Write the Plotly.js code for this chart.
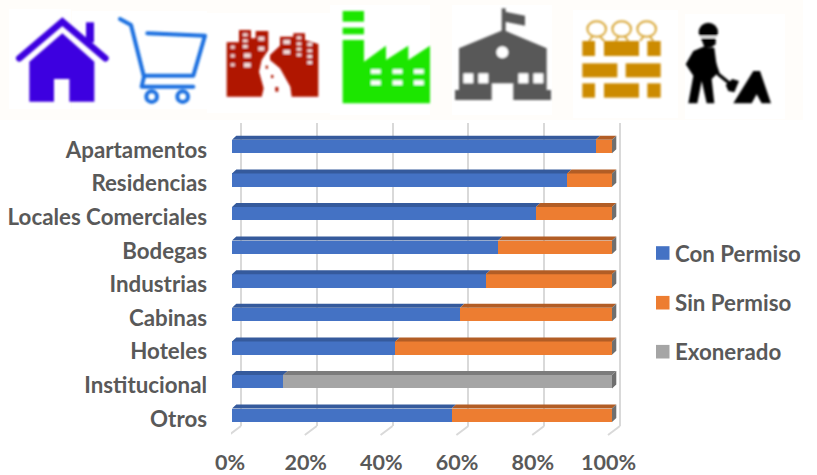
<!DOCTYPE html>
<html><head><meta charset="utf-8">
<script src="https://cdn.plot.ly/plotly-3.0.1.min.js"></script>
<style>html,body{margin:0;padding:0;background:#fff}#c{width:817px;height:475px}</style>
</head><body><div id="c"></div>
<script>
const categories=["Apartamentos","Residencias","Locales Comerciales","Bodegas","Industrias","Cabinas","Hoteles","Institucional","Otros"];
const conPermiso=[95.7,88.2,80,70,66.8,60,43,13.5,57.8];
const sinPermiso=[4.3,11.8,20,30,33.2,40,57,0,42.2];
const exonerado=[0,0,0,0,0,0,0,86.5,0];
const seriesNames=["Con Permiso","Sin Permiso","Exonerado"];
const xTicks=[0,20,40,60,80,100];
const xTickLabels=["0%","20%","40%","60%","80%","100%"];
const frontColors=["#4472c4","#ed7d31","#a5a5a5"];
const topColors=["#355a9c","#b25d25","#7c7c7c"];
const sideColor="#6f6f6f";
const textColor="#595959";
const W=817,H=475;
const fx=p=>p/W, fy=p=>1-p/H;
const font={family:"Lato, 'Open Sans', sans-serif",size:22.3,color:textColor,weight:"bold"};
const xTickFont=Object.assign({},font,{size:21.5});
const pxPerRow=33.6, pxPerPct=3.8, depthX=4.3, depthY=4;
const dX=depthX/pxPerPct, dY=depthY/pxPerRow, halfBar=0.2;
const yRange=(t,b)=>[(b-146.5)/pxPerRow,(t-146.5)/pxPerRow];
const rows=categories.map((_,i)=>i);
const series=[conPermiso,sinPermiso,exonerado];

const traces=[];
traces.push({type:"scatter",x:xTicks,y:xTicks.map(()=>0),xaxis:"x",yaxis:"y",mode:"markers",marker:{opacity:0},hoverinfo:"skip",showlegend:false});
series.forEach((vals,s)=>{
  const xs=[],ys=[];
  vals.forEach((v,i)=>{
    if(v<=0) return;
    let start=0; for(let k=0;k<s;k++) start+=series[k][i];
    const t=i-halfBar;
    xs.push(start,start+v,start+v+dX,start+dX,start,null);
    ys.push(t,t,t-dY,t-dY,t,null);
  });
  traces.push({type:"scatter",x:xs,y:ys,xaxis:"x2",yaxis:"y2",mode:"lines",line:{width:0},fill:"toself",fillcolor:topColors[s],hoverinfo:"skip",showlegend:false});
});
{
  const xs=[],ys=[];
  rows.forEach(i=>{
    const end=conPermiso[i]+sinPermiso[i]+exonerado[i], t=i-halfBar, b=i+halfBar;
    xs.push(end,end+dX,end+dX,end,end,null);
    ys.push(t,t-dY,b-dY,b,t,null);
  });
  traces.push({type:"scatter",x:xs,y:ys,xaxis:"x2",yaxis:"y2",mode:"lines",line:{width:0},fill:"toself",fillcolor:sideColor,hoverinfo:"skip",showlegend:false});
}
series.forEach((vals,s)=>{
  traces.push({type:"bar",orientation:"h",name:seriesNames[s],x:vals,y:rows,xaxis:"x2",yaxis:"y2",width:2*halfBar,
    marker:{color:frontColors[s],line:{width:0}},showlegend:false});
});
traces.push({type:"scatter",x:xTicks,y:xTicks.map(()=>0),xaxis:"x3",yaxis:"y3",mode:"markers",marker:{opacity:0},hoverinfo:"skip",showlegend:false});

const shapes=[];
xTicks.forEach(t=>{
  shapes.push({type:"line",layer:"below",xref:"x",yref:"paper",x0:t,x1:t-12/3.79,y0:fy(426),y1:fy(435),line:{color:"#d9d9d9",width:2}});
});
const legendY=[253,302.7,351.7];
const annotations=[];
seriesNames.forEach((n,s)=>{
  shapes.push({type:"rect",xref:"paper",yref:"paper",x0:fx(656),x1:fx(669.5),y0:fy(legendY[s]-6.8),y1:fy(legendY[s]+6.8),fillcolor:frontColors[s],line:{width:0}});
  annotations.push({xref:"paper",yref:"paper",x:fx(675),y:fy(legendY[s]),xanchor:"left",yanchor:"middle",showarrow:false,text:n,font:font,borderpad:0,borderwidth:0});
});

const icons=`<svg xmlns="http://www.w3.org/2000/svg" width="817" height="120" viewBox="0 0 817 120">
<defs><filter id="b" x="-5%" y="-5%" width="110%" height="110%"><feGaussianBlur stdDeviation="0.8"/></filter></defs>
<rect x="0" y="0" width="803" height="121" fill="#fffdfa"/>
<g fill="#fff"><rect x="9" y="9" width="62" height="100"/><rect x="72" y="11" width="135" height="98"/><rect x="145" y="13" width="60" height="96"/><rect x="207" y="13" width="123" height="100"/><rect x="330" y="5" width="100" height="110"/><rect x="452" y="5" width="100" height="110"/><rect x="573" y="10" width="105" height="108"/><rect x="685" y="14" width="100" height="105"/></g>
<g filter="url(#b)">
<g transform="translate(0,5) scale(.33333)">
<path d="M58,160 L187,50 L316,160" fill="none" stroke="#3d00e0" stroke-width="20" stroke-linecap="round" stroke-linejoin="miter"/>
<rect x="258" y="52" width="24" height="60" fill="#3d00e0"/>
<path fill-rule="evenodd" d="M88,290 V170 L187,85 L283,170 V290 H208 V222 H162 V290 Z" fill="#3d00e0"/>
<g fill="none" stroke="#1a6fe0" stroke-width="12" stroke-linecap="round" stroke-linejoin="round">
<path d="M360,42 L393,60 L432,215 L425,245 H580"/>
<path d="M442,85 L615,92 L580,212 H432"/>
<circle cx="455" cy="275" r="16"/><circle cx="548" cy="275" r="16"/>
</g></g>
<g transform="translate(215,5) scale(.33333)">
<path d="M35,275 V112 H72 V75 H108 V100 H122 V78 H160 V135 L140,165 L132,200 L146,250 L140,275 Z" fill="#b01200"/>
<path d="M165,150 L195,122 V95 H235 V85 H270 V105 L310,117 V275 H230 L226,245 L195,190 L165,165 Z" fill="#b01200"/>
<g fill="#fff" opacity=".85">
<rect x="47" y="122" width="12" height="9"/><rect x="47" y="148" width="12" height="9"/><rect x="47" y="175" width="12" height="9"/>
<rect x="84" y="85" width="14" height="9"/><rect x="84" y="103" width="14" height="9"/><rect x="84" y="120" width="14" height="9"/>
<rect x="87" y="145" width="20" height="13"/><rect x="87" y="174" width="20" height="13"/>
<rect x="130" y="95" width="18" height="12"/><rect x="130" y="125" width="18" height="12"/>
<rect x="205" y="105" width="20" height="12"/><rect x="205" y="135" width="20" height="12"/>
<rect x="245" y="94" width="14" height="9"/><rect x="245" y="112" width="14" height="9"/><rect x="245" y="128" width="14" height="9"/><rect x="245" y="145" width="14" height="9"/>
<rect x="277" y="114" width="14" height="9"/><rect x="277" y="133" width="14" height="9"/><rect x="277" y="150" width="14" height="9"/><rect x="277" y="168" width="14" height="9"/>
</g>
<g fill="#b01200"><rect x="152" y="182" width="7" height="9"/><rect x="168" y="210" width="7" height="9"/><rect x="181" y="246" width="9" height="14"/></g>
<rect x="383" y="18" width="64" height="32" fill="#1fe600"/><rect x="383" y="68" width="64" height="20" fill="#1fe600"/>
<path d="M383,295 V105 H447 V170 L513,122 V165 L580,122 V165 L645,122 V295 Z" fill="#1fe600"/>
<g fill="#fff"><rect x="468" y="193" width="29" height="13"/><rect x="533" y="193" width="29" height="13"/><rect x="597" y="193" width="29" height="13"/><rect x="468" y="226" width="29" height="14"/><rect x="533" y="226" width="29" height="14"/><rect x="597" y="226" width="29" height="14"/></g>
</g>
<g transform="translate(445,5) scale(.33333)">
<path d="M30,285 V255 H42 V130 L175,75 L305,130 V255 H318 V285 H205 V235 H140 V285 Z" fill="#595959"/>
<rect x="170" y="10" width="12" height="72" fill="#595959"/>
<path d="M180,20 L240,32 V62 L180,50 Z" fill="#595959"/>
<circle cx="172" cy="142" r="18" fill="#fff"/>
<g fill="#fff"><rect x="55" y="205" width="30" height="30"/><rect x="100" y="205" width="30" height="30"/><rect x="220" y="205" width="30" height="30"/><rect x="265" y="205" width="30" height="30"/></g>
<g fill="#cc8b00">
<rect x="412" y="108" width="38" height="45"/><rect x="477" y="108" width="105" height="45"/><rect x="607" y="108" width="40" height="45"/>
<rect x="412" y="175" width="105" height="42"/><rect x="542" y="175" width="105" height="42"/>
<rect x="412" y="235" width="38" height="43"/><rect x="477" y="235" width="105" height="43"/><rect x="607" y="235" width="40" height="43"/>
</g>
<g fill="none" stroke="#d8a635" stroke-width="6"><ellipse cx="455" cy="72" rx="28" ry="23"/><ellipse cx="530" cy="72" rx="28" ry="23"/><ellipse cx="605" cy="72" rx="28" ry="23"/>
<path d="M442,95 L432,108 M465,95 L478,108 M520,95 L512,108 M540,95 L550,108 M595,95 L585,108 M615,95 L625,108"/></g>
<circle cx="790" cy="82" r="29" fill="#000"/><rect x="762" y="93" width="60" height="6" fill="#fff"/>
<path d="M768,100 H812 V118 L800,126 H778 Z" fill="#000"/>
<path d="M745,138 L775,125 L808,128 L818,205 L800,222 L808,295 L785,295 L770,228 L757,295 L730,295 L745,212 L722,178 Z" fill="#000"/>
<path d="M800,150 L820,208 L860,240" fill="none" stroke="#000" stroke-width="10"/>
<path d="M842,240 L862,222 L882,228 L868,262 L850,258 Z" fill="#000"/>
<path d="M865,295 L925,198 L945,198 L978,295 H950 L935,268 L920,295 Z" fill="#000"/>
</g>
</g></svg>`;

const axBase={showline:false,zeroline:false,ticks:"",showticklabels:false,showgrid:false};
const layout={
  width:W,height:H,margin:{l:0,r:0,t:0,b:0,pad:0},paper_bgcolor:"#fff",plot_bgcolor:"rgba(0,0,0,0)",
  barmode:"stack",showlegend:false,font:font,hovermode:false,
  images:[{source:"data:image/svg+xml;charset=utf-8,"+encodeURIComponent(icons),xref:"paper",yref:"paper",x:0,y:1,sizex:1,sizey:120/H,xanchor:"left",yanchor:"top",sizing:"stretch",layer:"below"}],
  xaxis:Object.assign({},axBase,{domain:[fx(231),fx(631)],range:[(231-241)/3.79,(631-241)/3.79],anchor:"y",showgrid:true,gridcolor:"#d9d9d9",gridwidth:2,tickmode:"array",tickvals:xTicks}),
  yaxis:Object.assign({},axBase,{domain:[fy(426),fy(123)],range:[0,1],anchor:"x"}),
  xaxis2:Object.assign({},axBase,{domain:[fx(232),fx(632)],range:[0,400/pxPerPct],anchor:"y2"}),
  yaxis2:Object.assign({},axBase,{domain:[fy(432),fy(130)],range:yRange(130,432),anchor:"x2"}),
  xaxis3:Object.assign({},axBase,{domain:[fx(230),fx(608.5)],range:[0,100],anchor:"y3",showticklabels:true,tickmode:"array",tickvals:xTicks,ticktext:xTickLabels,tickfont:xTickFont,ticklabelstandoff:12,ticklabeloverflow:"allow"}),
  yaxis3:Object.assign({},axBase,{domain:[fy(435.5),fy(133.5)],range:yRange(130,432),anchor:"x3",showticklabels:true,tickmode:"array",tickvals:rows,ticktext:categories,tickfont:font,ticklabelstandoff:22,ticklabeloverflow:"allow"}),
  shapes:shapes,annotations:annotations
};
Plotly.newPlot("c",traces,layout,{displayModeBar:false,staticPlot:true});
</script></body></html>
